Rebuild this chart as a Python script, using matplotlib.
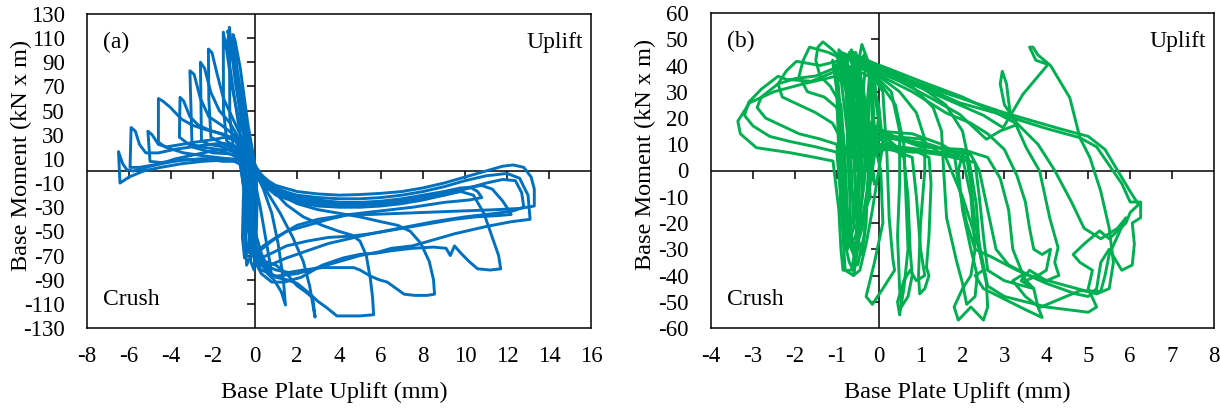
import matplotlib
matplotlib.use("Agg")
import matplotlib.pyplot as plt

plt.rcParams['font.family'] = ['Liberation Serif', 'DejaVu Serif']
plt.rcParams['axes.unicode_minus'] = False

# ---- axis settings ----
xticks_a = list(range(-8, 17, 2))
yticks_a = list(range(-130, 131, 20))
xticks_b = list(range(-4, 9, 1))
yticks_b = list(range(-60, 61, 10))

# ---- panel (a) : base moment vs plate uplift, one list per cycle (x mm, M kN.m) ----
a_c0 = [(0.0, -10), (-0.4, 30), (-0.75, 70), (-1.0, 100), (-1.1, 110), (-1.0, 95), (-0.75, 60),
        (-0.5, 30), (-0.3, 0), (-0.35, -30), (-0.45, -60), (-0.4, -78), (-0.2, -70), (-0.1, -45), (0.0, -10)]
a_c1 = [(-0.1, -5), (-0.5, 35), (-0.85, 75), (-1.15, 105), (-1.3, 116), (-1.2, 108), (-0.95, 80),
        (-0.65, 45), (-0.4, 15), (-0.55, -20), (-0.6, -55), (-0.5, -72), (-0.3, -60), (-0.15, -30), (-0.1, -5)]
a_c1b = [(0.05, 0), (-0.35, 40), (-0.7, 85), (-0.95, 108), (-1.05, 113), (-0.9, 90), (-0.6, 55),
         (-0.3, 20), (-0.2, -10), (-0.25, -45), (-0.2, -75), (-0.05, -82), (0.05, -60), (0.1, -25), (0.05, 0)]
a_c1c = [(-0.2, 5), (-0.6, 45), (-1.0, 90), (-1.25, 112), (-1.35, 105), (-1.1, 75), (-0.8, 40),
         (-0.5, 10), (-0.45, -25), (-0.5, -50), (-0.35, -68), (-0.15, -55), (-0.05, -30), (-0.2, 5)]
a_c2 = [(0.1, -5), (-0.3, 20), (-0.6, 50), (-0.85, 80), (-1.0, 95), (-0.9, 75), (-0.65, 45), (-0.35, 15),
        (0.0, -10), (0.25, -30), (0.5, -55), (0.7, -75), (0.8, -88), (0.6, -80), (0.3, -68), (0.0, -50),
        (-0.2, -25), (0.1, -5)]
a_c3 = [(-0.3, -20), (-0.5, 10), (-0.8, 18), (-1.05, 22), (-1.2, 45), (-1.22, 119), (-1.12, 100),
        (-0.95, 75), (-0.7, 48), (-0.4, 25), (0.0, 0), (0.4, -15), (0.8, -35), (1.1, -60), (1.35, -90),
        (1.45, -111), (1.25, -100), (0.9, -90), (0.6, -85), (0.3, -72), (0.0, -60), (-0.2, -45), (-0.3, -20)]
a_c4 = [(-0.4, -10), (-0.6, 12), (-1.0, 20), (-1.35, 25), (-1.5, 50), (-1.51, 115), (-1.35, 100),
        (-1.1, 70), (-0.8, 45), (-0.45, 25), (0.1, 0), (0.6, -18), (1.2, -35), (1.8, -55), (2.3, -75),
        (2.6, -95), (2.86, -121), (2.75, -105), (2.4, -100), (2.0, -95), (1.5, -85), (1.0, -78),
        (0.5, -75), (0.1, -70), (-0.2, -50), (-0.4, -10)]
a_c5 = [(-0.45, -5), (-0.7, 12), (-1.2, 20), (-1.7, 24), (-2.1, 28), (-2.2, 60), (-2.22, 101),
        (-2.05, 98), (-1.8, 80), (-1.5, 60), (-1.1, 45), (-0.7, 30), (-0.3, 15), (0.2, -2), (0.8, -15),
        (1.5, -28), (2.3, -38), (3.2, -45), (4.0, -50), (4.6, -53), (5.0, -58), (5.3, -70), (5.5, -90),
        (5.6, -105), (5.65, -119), (5.0, -120), (4.4, -120), (3.9, -120), (3.4, -113), (3.0, -108),
        (2.5, -100), (2.0, -93), (1.5, -90), (1.0, -88), (0.5, -82), (0.2, -75), (-0.2, -55), (-0.45, -5)]
a_c6 = [(-0.5, 0), (-0.8, 14), (-1.5, 20), (-2.2, 22), (-2.55, 25), (-2.6, 90), (-2.4, 85), (-2.1, 65),
        (-1.7, 50), (-1.2, 40), (-0.7, 25), (-0.3, 12), (0.3, -5), (1, -18), (2, -27), (3, -32), (4, -35),
        (5, -38), (6, -42), (6.8, -45), (7.4, -50), (7.9, -60), (8.3, -75), (8.5, -90), (8.55, -102),
        (8.2, -103), (7.6, -103), (7.1, -102), (6.7, -97), (6.3, -92), (5.9, -90), (5.5, -87), (5.0, -82),
        (4.7, -80), (3.6, -80), (3.2, -80), (2.3, -82), (1.6, -84), (1.0, -82), (0.5, -78), (0.1, -70),
        (-0.2, -50), (-0.5, 0)]
a_c7 = [(-0.55, 0), (-0.9, 12), (-1.8, 18), (-2.6, 20), (-3.0, 22), (-3.1, 83), (-2.9, 80), (-2.6, 60),
        (-2.2, 45), (-1.6, 38), (-1.0, 30), (-0.4, 15), (0.3, -3), (1, -14), (2, -21), (3, -24), (4, -26),
        (5, -27), (6, -27), (7, -25), (8, -23), (9, -20), (9.8, -17), (10.4, -20), (10.9, -35), (11.3, -55),
        (11.6, -70), (11.7, -81), (11.2, -82), (10.6, -81), (10.2, -75), (9.8, -68), (9.5, -62), (9.3, -70),
        (9.1, -64), (8.5, -63), (7.5, -64), (6.5, -66), (5.8, -68), (5.0, -69), (4.2, -72), (3.2, -78),
        (2.2, -88), (1.4, -92), (0.8, -92), (0.3, -85), (0.0, -75), (-0.3, -50), (-0.55, 0)]
a_c8 = [(-0.6, 5), (-1.0, 14), (-2.0, 15), (-3.0, 20), (-3.6, 28), (-3.57, 61), (-3.4, 58), (-3.1, 45),
        (-2.7, 38), (-2.2, 34), (-1.5, 30), (-0.9, 25), (-0.4, 10), (0.3, -5), (1, -12), (2, -17), (3, -19),
        (4, -20), (5, -19.5), (6, -18.5), (7, -17), (8, -14), (9, -10), (10, -5), (11, 0), (11.8, 4),
        (12.3, 5), (12.8, 3), (13.15, -5), (13.3, -15), (13.3, -29), (12.6, -31), (11.5, -32), (10, -33),
        (8.5, -34), (7, -35), (5.5, -36), (4.5, -36), (3.5, -40), (2.5, -45), (1.5, -50), (0.8, -58),
        (0.3, -65), (0, -70), (-0.3, -40), (-0.6, 5)]
a_c9 = [(-0.65, 5), (-1.2, 10), (-2.2, 12), (-3.4, 15), (-4.3, 20), (-4.6, 24), (-4.6, 60), (-4.4, 58),
        (-4.05, 53), (-3.5, 43), (-3, 38), (-2.3, 34), (-1.6, 31), (-1.0, 27), (-0.5, 12), (0.2, -6),
        (1, -15), (2, -20), (3, -22), (4, -23), (5, -23), (6, -22), (7, -20), (8, -17), (9, -13), (10, -8),
        (11, -4), (12, -2), (12.6, -6), (13.0, -20), (13.1, -40), (12.2, -42), (11, -46), (9.5, -52),
        (8.5, -57), (7.5, -62), (6.5, -64), (5.9, -67), (5.0, -70), (4.0, -75), (3.0, -80), (2.0, -85),
        (1.0, -87), (0.3, -82), (0, -75), (-0.35, -40), (-0.65, 5)]
a_c10 = [(-0.7, 8), (-1.5, 8), (-2.5, 10), (-3.5, 9), (-4.5, 7), (-5.0, 8), (-5.1, 33), (-4.9, 30),
         (-4.6, 22), (-4.2, 20), (-3.5, 22), (-2.8, 24), (-2.0, 26), (-1.4, 28), (-0.9, 25), (-0.4, 10),
         (0.3, -8), (1, -18), (2, -24), (3, -27), (4, -28), (5, -28), (6, -27), (7, -25), (8, -22), (9, -18),
         (10, -14), (10.8, -12), (11.3, -15), (11.8, -25), (12.1, -33), (12.2, -36), (11.5, -37),
         (10.5, -38), (9.5, -40), (8.5, -43), (7.5, -46), (6.5, -49), (5.5, -52), (4.5, -54), (3.5, -55),
         (2.5, -58), (1.5, -62), (0.8, -68), (0.3, -72), (0, -75), (-0.35, -40), (-0.7, 8)]
a_c11 = [(-0.7, 10), (-1.5, 10), (-2.5, 10), (-3.5, 9), (-4.5, 6), (-5.5, 3), (-5.95, 3), (-5.9, 36),
         (-5.7, 33), (-5.5, 22), (-5.2, 15), (-4.6, 15), (-3.8, 18), (-3.0, 20), (-2.2, 22), (-1.5, 23),
         (-0.9, 20), (-0.4, 8), (0.3, -8), (1, -17), (2, -22), (3, -25), (4, -26), (5, -26), (6, -25),
         (7, -23), (8, -20), (9, -17), (9.8, -14), (10.3, -14), (10.6, -17), (10.8, -22), (10.2, -24),
         (9.0, -26), (7.5, -30), (6, -33), (4.5, -36), (3, -40), (2, -45), (1, -55), (0.4, -62), (0, -68),
         (-0.35, -35), (-0.7, 10)]
a_c12 = [(-0.75, 10), (-1.5, 9), (-2.5, 8), (-3.5, 6), (-4.5, 3), (-5.3, 0), (-6.0, -5), (-6.43, -10),
         (-6.5, 16), (-6.3, 6), (-6.1, 1), (-5.8, 0), (-5.2, 3), (-4.5, 6), (-3.8, 10), (-3.0, 13),
         (-2.2, 16), (-1.5, 18), (-0.9, 16), (-0.4, 5), (0.3, -10), (1, -20), (2, -26), (3, -29), (4, -30),
         (5, -30), (6, -29), (7, -27), (8, -24), (9, -20), (10, -15), (11, -10), (11.8, -7), (12.4, -8),
         (12.7, -18), (12.8, -30), (12.3, -33), (11.5, -35), (10, -38), (8.5, -42), (7, -47), (5.5, -52),
         (4.5, -56), (3.5, -60), (2.5, -66), (1.5, -72), (0.7, -78), (0.2, -78), (-0.3, -40), (-0.75, 10)]

cycles_a = [a_c0, a_c1, a_c1b, a_c1c, a_c2, a_c3, a_c4, a_c5, a_c6, a_c7, a_c8, a_c9, a_c10, a_c11, a_c12]

# ---- panel (b) ----
b_c0 = [(-0.5, 0), (-0.6, 25), (-0.8, 43), (-0.95, 46), (-1.0, 30), (-0.95, 5), (-0.9, -15), (-0.8, -28),
        (-0.7, -35), (-0.6, -38), (-0.5, -25), (-0.35, -5), (-0.25, 15), (-0.2, 35), (-0.35, 44),
        (-0.55, 38), (-0.65, 15), (-0.5, 0)]
b_c1 = [(-0.1, -5), (-0.3, 20), (-0.6, 45), (-0.75, 42), (-0.7, 20), (-0.65, 0), (-0.6, -20),
        (-0.45, -25), (-0.3, -15), (-0.15, 0), (0.0, 18), (-0.1, 35), (-0.4, 48), (-0.5, 40), (-0.35, 20),
        (-0.1, -5)]
b_c1b = [(-0.85, 0), (-0.9, 20), (-1.0, 40), (-0.85, 44), (-0.7, 30), (-0.6, 10), (-0.55, -10),
         (-0.5, -25), (-0.4, -32), (-0.3, -20), (-0.25, 0), (-0.3, 25), (-0.5, 42), (-0.65, 30),
         (-0.75, 10), (-0.85, 0)]
b_c1c = [(-0.7, -5), (-0.75, 15), (-0.9, 35), (-1.1, 42), (-0.95, 25), (-0.85, 5), (-0.8, -12),
         (-0.7, -22), (-0.55, -15), (-0.45, 5), (-0.4, 25), (-0.55, 45), (-0.45, 35), (-0.3, 10),
         (-0.2, -10), (-0.4, -18), (-0.7, -5)]
b_c1d = [(-0.35, 10), (-0.45, 30), (-0.65, 46), (-0.8, 40), (-0.75, 20), (-0.7, -5), (-0.65, -30),
         (-0.5, -36), (-0.35, -25), (-0.25, -5), (-0.15, 20), (-0.2, 40), (-0.35, 10)]
b_c1e = [(-0.6, 5), (-0.7, 28), (-0.85, 40), (-1.0, 38), (-0.95, 18), (-0.9, 0), (-0.85, -20),
         (-0.75, -30), (-0.6, -22), (-0.5, -5), (-0.45, 20), (-0.6, 38), (-0.75, 25), (-0.6, 5)]
b_c1f = [(-0.25, 0), (-0.35, 22), (-0.5, 40), (-0.65, 34), (-0.6, 12), (-0.55, -8), (-0.5, -22),
         (-0.35, -18), (-0.2, -2), (-0.1, 15), (-0.15, 32), (-0.3, 42), (-0.4, 25), (-0.25, 0)]
b_c2 = [(-0.2, 5), (-0.45, 25), (-0.75, 40), (-1.1, 46), (-1.33, 49), (-1.45, 47), (-1.5, 42),
        (-1.4, 36), (-1.15, 32), (-0.9, 25), (-0.8, 5), (-0.75, -15), (-0.7, -27), (-0.5, -28),
        (-0.3, -15), (-0.2, 5)]
b_c3 = [(-0.1, 10), (-0.4, 30), (-0.8, 42), (-1.2, 45), (-1.65, 47), (-1.8, 42), (-1.9, 36), (-1.7, 30),
        (-1.3, 28), (-1.0, 24), (-0.85, 10), (-0.8, -10), (-0.65, -25), (-0.55, -35), (-0.6, -40),
        (-0.45, -38), (-0.3, -28), (-0.15, -15), (0.0, 0), (0.1, 10), (0.0, 25), (-0.3, 40), (0.1, 30),
        (0.2, 5), (0.25, -18), (0.34, -34), (0.38, -38), (0.1, -45), (-0.15, -51), (-0.3, -48),
        (-0.1, -35), (0.1, -20), (0.05, 0), (-0.1, 10)]
b_c4 = [(-0.2, 0), (-0.5, 30), (-0.9, 42), (-1.4, 40), (-1.96, 41.6), (-2.2, 38), (-2.4, 33), (-2.3, 28),
        (-1.9, 25), (-1.5, 22), (-1.1, 18), (-0.9, 12), (-0.85, -10), (-0.75, -25), (-0.6, -30), (-0.4, -20),
        (-0.2, 0), (0, 20), (-0.2, 38), (0.3, 30), (0.5, 15), (0.5, -5), (0.45, -25), (0.5, -45),
        (0.54, -52), (0.7, -48), (0.8, -40), (0.75, -30), (0.7, -10), (0.6, 5), (0.3, 10), (0, 12),
        (-0.2, 0)]
b_c5 = [(-0.3, 5), (-0.6, 35), (-0.9, 40), (-1.5, 36), (-2.0, 35), (-2.4, 33), (-2.8, 28), (-2.9, 24),
        (-2.7, 20), (-2.3, 17), (-1.9, 14), (-1.4, 12), (-1.0, 10), (-0.9, -5), (-0.8, -20), (-0.75, -30),
        (-0.55, -25), (-0.35, -5), (-0.3, 20), (-0.5, 40), (0, 36), (0.5, 30), (0.9, 22), (1.1, 12),
        (1.1, 0), (1.0, -20), (0.95, -40), (0.98, -47), (1.1, -45), (1.2, -40), (1.14, -37), (1.2, -25),
        (1.25, -5), (1.2, 5), (0.8, 8), (0.3, 9), (-0.3, 5)]
b_c6 = [(-0.35, 8), (-0.65, 30), (-1.0, 38), (-1.6, 34), (-2.2, 34.7), (-2.4, 35.9), (-2.8, 31),
        (-3.1, 26), (-3.2, 21), (-3.0, 17), (-2.6, 13), (-2.1, 11), (-1.5, 9), (-1.0, 7), (-0.9, -10),
        (-0.85, -25), (-0.8, -38), (-0.6, -40), (-0.5, -30), (-0.4, -10), (-0.4, 20), (-0.6, 42),
        (0.2, 38), (0.8, 32), (1.3, 24), (1.5, 15), (1.55, 0), (1.62, -18), (1.85, -34), (2.0, -43),
        (2.1, -51), (2.3, -48), (2.35, -40), (2.2, -30), (2.0, -15), (1.9, 0), (2.0, 6), (2.2, 7),
        (1.5, 7), (0.8, 7), (0.2, 8), (-0.35, 8)]
b_c7 = [(-0.4, 5), (-0.7, 30), (-1.0, 36), (-1.8, 33), (-2.5, 30), (-3.08, 25.8), (-3.36, 18.8),
        (-3.3, 14), (-2.92, 8.7), (-2.12, 6.8), (-1.49, 4.9), (-1.09, 3.6), (-0.95, -15), (-0.9, -30),
        (-0.85, -38), (-0.65, -38), (-0.5, -25), (-0.45, 0), (-0.5, 30), (-0.7, 45), (0.3, 38), (1.0, 32),
        (1.6, 25), (2.0, 15), (2.2, 0), (2.33, -13), (2.41, -31), (2.57, -43), (2.6, -52), (2.5, -57),
        (2.2, -52), (1.9, -57), (1.8, -52), (2.0, -45), (2.2, -40), (2.3, -30), (2.2, -10), (2.0, 5),
        (1.5, 10), (0.8, 14), (0.0, 15), (-0.4, 5)]
b_c8 = [(-0.5, 10), (-0.8, 38), (-0.4, 40), (0.5, 34), (1.2, 28), (1.93, 21.4), (2.57, 11.9),
        (2.89, 15), (3.32, 17.6), (3.0, 25), (2.9, 33), (2.95, 37.8), (3.05, 33), (3.13, 22.6),
        (3.52, 8.7), (3.84, -0.2), (4.08, -18), (4.28, -29.4), (4.2, -35), (4.3, -40), (4.0, -42),
        (3.6, -38), (3.4, -42), (3.7, -45), (3.8, -52), (3.9, -56), (3.5, -53), (2.5, -45), (2.3, -40),
        (2.5, -38), (2.4, -30), (2.0, -10), (1.6, 5), (1.0, 12), (0.3, 13), (-0.5, 10)]
b_c9 = [(-0.6, 15), (-0.9, 42), (-0.5, 42), (0.5, 35), (1.5, 28), (2.5, 21), (2.97, 16.3), (3.44, 29),
        (4.04, 40.4), (3.75, 42), (3.6, 47), (3.68, 47), (3.8, 44), (4.1, 40), (4.56, 27.7), (4.8, 12.5),
        (5.04, 4.9), (5.3, -8), (5.5, -22), (5.6, -35), (5.5, -45), (5.2, -47), (4.5, -44), (3.6, -40),
        (3.1, -36), (2.8, -30), (2.6, -15), (2.4, 0), (2.2, 6), (1.0, 10), (-0.6, 15)]
b_c10 = [(-0.5, 20), (-0.8, 44), (-0.3, 40), (0.5, 36), (1.93, 25.8), (3, 21), (4.0, 16), (4.8, 12.5),
         (5.2, 9), (5.5, 2), (5.8, -5), (6.0, -12), (6.25, -12), (6.25, -18), (6.05, -20), (6.1, -28),
         (6.05, -36), (5.8, -38), (5.5, -30), (5.3, -35), (5.2, -45), (5.0, -48), (4.7, -47), (4.0, -43),
         (3.3, -38), (2.7, -33), (2.3, -30), (2.1, -20), (1.9, -5), (1.8, 7), (1.2, 10), (0.5, 12),
         (-0.5, 20)]
b_c11 = [(-0.6, 22), (-0.9, 45), (-0.4, 42), (0.3, 37), (1.5, 30), (3.0, 22), (4.3, 16), (5.0, 13),
         (5.4, 8), (5.7, 0), (6.0, -8), (6.2, -13), (6.0, -16), (5.9, -20), (5.5, -26), (5.27, -23),
         (4.9, -28), (4.64, -32), (4.8, -35), (5.1, -38), (5.0, -45), (5.2, -52), (5.0, -54), (4.0, -52),
         (3.0, -48), (2.6, -44), (2.5, -36), (2.3, -20), (2.2, -5), (2.1, 5), (1.0, 8), (0.0, 10),
         (-0.6, 22)]
b_c12 = [(-0.7, 25), (-1.0, 44), (-0.5, 43), (0.2, 39), (1.0, 34), (2.0, 28), (2.8, 22), (3.32, 17.6),
         (3.8, 10), (4.2, 0), (4.6, -12), (4.9, -22), (5.3, -26), (5.7, -22), (5.9, -18), (5.7, -25),
         (5.5, -32), (5.4, -40), (5.3, -46), (4.8, -45.8), (3.84, -52.2), (3.5, -48), (3.2, -42),
         (3.4, -40), (3.7, -45), (3.0, -42), (2.6, -38), (2.5, -25), (2.4, -10), (2.3, 3), (1.5, 6),
         (0.5, 8), (-0.7, 25)]
b_c13 = [(-0.5, 18), (-0.85, 40), (-0.2, 38), (0.8, 30), (1.6, 22), (2.2, 18), (2.6, 14), (3.0, 8),
         (3.3, -2), (3.5, -12), (3.6, -22), (3.7, -30), (3.9, -32), (4.1, -30), (4.0, -38), (3.8, -40),
         (3.5, -42), (3.4, -38), (3.2, -30), (3.1, -15), (2.9, -3), (2.6, 5), (2.0, 8), (1.0, 9),
         (-0.5, 18)]
b_c14 = [(-0.2, 10), (-0.5, 38), (0, 34), (0.4, 25), (0.6, 10), (0.65, -10), (0.7, -30), (0.6, -45),
         (0.5, -55), (0.45, -50), (0.6, -42), (0.75, -38), (0.9, -42), (1.1, -40), (1.0, -30),
         (0.9, -10), (0.8, 5), (0.3, 8), (-0.2, 10)]

cycles_b = [b_c0, b_c1, b_c1b, b_c1c, b_c1d, b_c1e, b_c1f, b_c2, b_c3, b_c4, b_c5, b_c6, b_c7, b_c8,
            b_c9, b_c10, b_c11, b_c12, b_c13, b_c14]

blue = '#0070C0'
green = '#00B050'


def draw_panel(ax, cycles, color, xticks, yticks, tag):
    for cyc in cycles:
        xs = [p[0] for p in cyc]
        ys = [p[1] for p in cyc]
        ax.plot(xs, ys, color=color, lw=2.1, solid_joinstyle='round', zorder=3)
    ax.set_xlim(xticks[0], xticks[-1])
    ax.set_ylim(yticks[0], yticks[-1])
    ax.set_xticks(xticks)
    ax.set_yticks(yticks)
    ax.tick_params(length=0, labelsize=16.5)
    ax.tick_params(axis='y', pad=16)
    ax.tick_params(axis='x', pad=13)
    for s in ax.spines.values():
        s.set_linewidth(1.1)
    # axes crossing at zero, with tick marks (Excel style)
    ax.axhline(0, color='black', lw=1.1, zorder=2)
    ax.axvline(0, color='black', lw=1.1, zorder=2)
    ax.plot(xticks[1:-1], [0] * len(xticks[1:-1]), ls='none', marker=3, ms=6, mew=1.1,
            color='black', zorder=2)
    ax.plot([0] * len(yticks[1:-1]), yticks[1:-1], ls='none', marker=0, ms=6, mew=1.1,
            color='black', zorder=2)
    ax.set_xlabel('Base Plate Uplift (mm)', fontsize=17.5)
    ax.set_ylabel('Base Moment (kN x m)', fontsize=17.5)
    ax.xaxis.set_label_coords(0.49, -0.172)
    ax.yaxis.set_label_coords(-0.11, 0.55)
    ax.text(0.032, 0.91, tag, transform=ax.transAxes, fontsize=17, va='center', ha='left')
    ax.text(0.985, 0.91, 'Uplift', transform=ax.transAxes, fontsize=17, va='center', ha='right')
    ax.text(0.032, 0.09, 'Crush', transform=ax.transAxes, fontsize=17, va='center', ha='left')


fig = plt.figure(figsize=(12.2, 4.09), dpi=100)
ax1 = fig.add_axes([87 / 1220, 81 / 409, 504 / 1220, 314 / 409])
ax2 = fig.add_axes([711 / 1220, 81 / 409, 503 / 1220, 315 / 409])

draw_panel(ax1, cycles_a, blue, xticks_a, yticks_a, '(a)')
draw_panel(ax2, cycles_b, green, xticks_b, yticks_b, '(b)')

fig.savefig('out.png', dpi=100)
